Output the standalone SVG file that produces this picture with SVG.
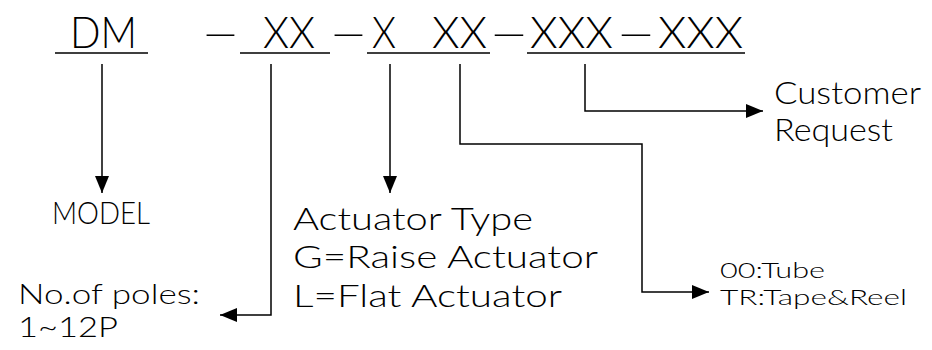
<svg xmlns="http://www.w3.org/2000/svg" width="932" height="350" viewBox="0 0 932 350">
<defs>
<marker id="ah" markerUnits="userSpaceOnUse" markerWidth="17" markerHeight="14" refX="17" refY="7" orient="auto">
<path d="M0,0 L17,7 L0,14 Z" fill="#000"/>
</marker>
<style>
text{font-family:Lato,"Liberation Sans",sans-serif;font-weight:300;fill:#000}
.hd{font-size:44px}
.lb{font-size:31px}
.pl{font-size:28px}
.sm{font-size:21px}
.ln{stroke:#000;stroke-width:1.5;fill:none}
.cn{stroke:#000;stroke-width:1.5;fill:none;marker-end:url(#ah)}
</style>
</defs>
<rect width="932" height="350" fill="#fff"/>
<g id="code">
<text class="hd" x="70" y="48" textLength="67" lengthAdjust="spacingAndGlyphs">DM</text>
<text class="hd" x="200" y="48" textLength="41" lengthAdjust="spacingAndGlyphs">–</text>
<text class="hd" x="328" y="48" textLength="41" lengthAdjust="spacingAndGlyphs">–</text>
<text class="hd" x="263" y="48" textLength="52" lengthAdjust="spacingAndGlyphs">XX</text>
<text class="hd" x="372" y="48" textLength="24" lengthAdjust="spacingAndGlyphs">X</text>
<text class="hd" x="432" y="48" textLength="55" lengthAdjust="spacingAndGlyphs">XX</text>
<text class="hd" x="488" y="48" textLength="42" lengthAdjust="spacingAndGlyphs">–</text>
<text class="hd" x="530" y="48" textLength="83" lengthAdjust="spacingAndGlyphs">XXX</text>
<text class="hd" x="615" y="48" textLength="42" lengthAdjust="spacingAndGlyphs">–</text>
<text class="hd" x="658" y="48" textLength="85" lengthAdjust="spacingAndGlyphs">XXX</text>
<path class="ln" d="M55,53H148M240,53H330M367,53H490M527,53H745"/>
</g>
<g id="model">
<text class="lb" x="52" y="224" textLength="98" lengthAdjust="spacingAndGlyphs">MODEL</text>
</g>
<g id="poles">
<text class="pl" x="18" y="304" textLength="182" lengthAdjust="spacingAndGlyphs">No.of poles:</text>
<text class="pl" x="18" y="337" textLength="100" lengthAdjust="spacingAndGlyphs">1~12P</text>
</g>
<g id="actuator">
<text class="lb" x="293" y="230" textLength="240" lengthAdjust="spacingAndGlyphs">Actuator Type</text>
<text class="lb" x="293" y="268" textLength="305" lengthAdjust="spacingAndGlyphs">G=Raise Actuator</text>
<text class="lb" x="293" y="307" textLength="269" lengthAdjust="spacingAndGlyphs">L=Flat Actuator</text>
</g>
<g id="customer">
<text class="lb" x="774" y="104" textLength="147" lengthAdjust="spacingAndGlyphs">Customer</text>
<text class="lb" x="774" y="141" textLength="119" lengthAdjust="spacingAndGlyphs">Request</text>
</g>
<g id="packing">
<text class="sm" x="720" y="278" textLength="105" lengthAdjust="spacingAndGlyphs">00:Tube</text>
<text class="sm" x="720" y="305" textLength="187" lengthAdjust="spacingAndGlyphs">TR:Tape&amp;Reel</text>
</g>
<g id="connectors">
<path class="cn" d="M102,64V193"/>
<path class="cn" d="M271,64V315H220"/>
<path class="cn" d="M390,64V193"/>
<path class="cn" d="M460,64V144H642V292H709"/>
<path class="cn" d="M585,64V111H763"/>
</g>
</svg>
